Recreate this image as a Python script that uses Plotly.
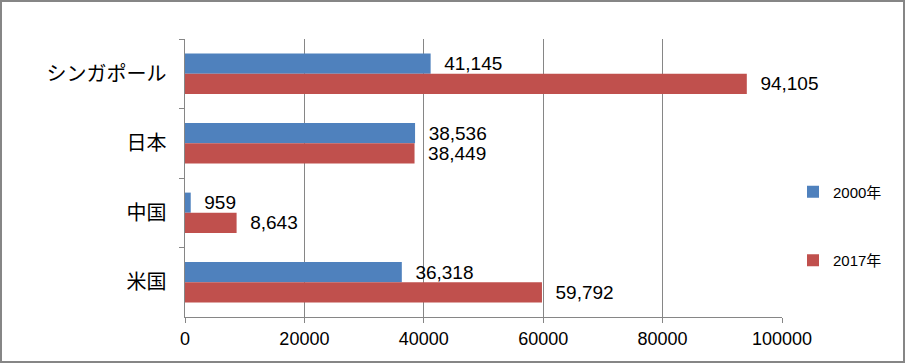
import plotly.graph_objects as go

categories = ["シンガポール", "日本", "中国", "米国"]
values_2000 = [41145, 38536, 959, 36318]
values_2017 = [94105, 38449, 8643, 59792]
series_names = ["2000年", "2017年"]
colors = ["#4F81BD", "#C0504D"]
x_ticks = [0, 20000, 40000, 60000, 80000, 100000]

W, H = 905, 363
L, R, T, B = 185, 123, 39, 46
pw, ph = W - L - R, H - T - B

NUM = "Liberation Sans, Noto Sans CJK JP"
CJK = "Noto Sans CJK JP"

fig = go.Figure()
for name, vals, col in zip(series_names, [values_2000, values_2017], colors):
    fig.add_trace(go.Bar(
        y=categories, x=vals, orientation="h", name=name,
        marker=dict(color=col, line=dict(width=0)),
        text=["\u00a0\u00a0" + f"{v:,}" for v in vals], textposition="outside",
        textfont=dict(family=NUM, size=19, color="#000"),
        constraintext="none",
        cliponaxis=False, legendgroup=name,
    ))

fig.update_layout(
    width=W, height=H,
    margin=dict(l=L, r=R, t=T, b=B, autoexpand=False),
    paper_bgcolor="white", plot_bgcolor="white",
    barmode="group", bargap=0.42, bargroupgap=0,
    font=dict(family=CJK, size=15, color="#000"),
    showlegend=True,
    legend=dict(x=(793 - L) / pw, xanchor="left", y=(H - B - 226) / ph, yanchor="middle",
                tracegroupgap=46, font=dict(family=NUM, size=15),
                itemwidth=30, bgcolor="rgba(0,0,0,0)"),
    xaxis=dict(range=[0, 100000], tickvals=x_ticks,
               ticktext=[str(v) for v in x_ticks],
               showgrid=True, gridcolor="#868686", gridwidth=1,
               showline=True, linecolor="#868686", ticks="outside", ticklen=5,
               tickcolor="#868686", zeroline=False, automargin=False,
               tickfont=dict(family=NUM, size=18)),
    yaxis=dict(autorange="reversed", showline=True, linecolor="#868686",
               ticks="outside", ticklen=5, tickcolor="#868686", tickson="boundaries",
               showgrid=False, automargin=False, tickfont=dict(family=CJK, size=20),
               ticksuffix="\u00a0\u00a0\u00a0"),
)

fig.add_shape(type="rect", xref="paper", yref="paper",
              x0=-(L - 1) / pw, x1=(W - L - 1) / pw,
              y0=-(B - 1) / ph, y1=(H - B - 1) / ph,
              line=dict(color="#868686", width=2), layer="above")

fig.write_html("out.html", config={"displayModeBar": False},
               post_script="document.body.style.margin='0';document.body.style.overflow='hidden';")
